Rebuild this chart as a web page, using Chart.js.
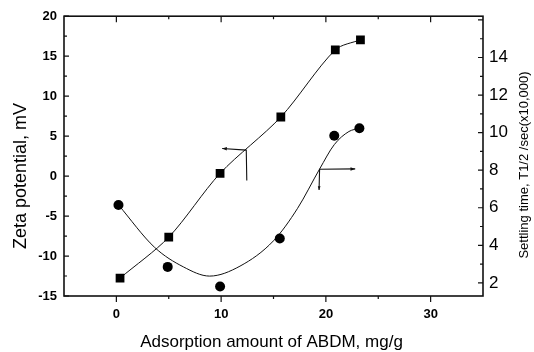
<!DOCTYPE html>
<html>
<head>
<meta charset="utf-8">
<script src="https://cdn.jsdelivr.net/npm/chart.js@4/dist/chart.umd.min.js"></script>
<style>
html,body{margin:0;padding:0;background:#fff;}
#wrap{width:534px;height:352px;}
</style>
</head>
<body>
<div id="wrap"><canvas id="c" width="534" height="352"></canvas></div>
<script>
// ---- data ----
const adsorptionZeta = [0.35, 5.0, 9.9, 15.7, 20.9, 23.3];       // mg/g
const zetaPotential  = [-12.76, -7.64, 0.34, 7.39, 15.79, 17.05];  // mV
const adsorptionSettle = [0.2, 4.9, 9.9, 15.6, 20.8, 23.2];      // mg/g
const settlingTime     = [6.15, 2.85, 1.81, 4.36, 9.83, 10.23];  // x10,000 s
// fitted curve through settling-time points
const settleCurveX = [0.2, 3.65, 6.4, 8.9, 11.8, 15.0, 17.3, 19.4, 20.8, 22.2, 23.2];
const settleCurveY = [6.15, 3.89, 2.85, 2.36, 2.89, 4.24, 5.97, 8.06, 9.36, 10.06, 10.23];
// tick labels
const xTicks  = [0, 10, 20, 30];
const yTicks  = [-15, -10, -5, 0, 5, 10, 15, 20];
const y2Ticks = [2, 4, 6, 8, 10, 12, 14];
const xTitle  = 'Adsorption amount of ABDM, mg/g';
const yTitle  = 'Zeta potential, mV';
const y2Title = 'Settling time, T1/2 /sec(x10,000)';
// annotation arrows (data coordinates: x in mg/g, y in mV)
const arrowToLeft  = {corner: [12.4, 3.25], tip: [10.1, 3.45], foot: [12.45, -0.55]};
const arrowToRight = {corner: [19.4, 0.85], tip: [22.8, 0.9], foot: [19.35, -1.75]};

const INK = '#111';
const FONT = '"Liberation Sans", Arial, sans-serif';

const pts = (xs, ys) => xs.map((x, i) => ({x, y: ys[i]}));

const decorPlugin = {
  id: 'decor',
  afterDraw(chart) {
    const {ctx, chartArea: a, scales} = chart;
    const sx = scales.x, sy = scales.y, sy2 = scales.y2;
    ctx.save();
    ctx.strokeStyle = INK;
    ctx.fillStyle = INK;
    // frame
    ctx.lineWidth = 1.6;
    ctx.strokeRect(a.left, a.top, a.right - a.left, a.bottom - a.top);
    // ticks
    ctx.lineWidth = 1.2;
    ctx.beginPath();
    for (let v = -15; v <= 20; v += 2.5) {
      const p = sy.getPixelForValue(v);
      const len = (v % 5 === 0) ? 5 : 3;
      ctx.moveTo(a.left, p); ctx.lineTo(a.left + len, p);
    }
    for (let v = 2; v <= 16; v += 1) {
      const p = sy2.getPixelForValue(v);
      const len = (v % 2 === 0) ? 5 : 3;
      ctx.moveTo(a.right, p); ctx.lineTo(a.right - len, p);
    }
    for (let v = 0; v <= 30; v += 5) {
      const p = sx.getPixelForValue(v);
      const len = (v % 10 === 0) ? 6 : 3;
      ctx.moveTo(p, a.bottom); ctx.lineTo(p, a.bottom + len);
      ctx.moveTo(p, a.top); ctx.lineTo(p, a.top + len);
    }
    ctx.stroke();

    // arrows
    const P = (d, s) => [sx.getPixelForValue(d[0]), s.getPixelForValue(d[1])];
    const head = (from, to, size) => {
      const ang = Math.atan2(to[1] - from[1], to[0] - from[0]);
      ctx.beginPath();
      ctx.moveTo(to[0], to[1]);
      ctx.lineTo(to[0] - size * Math.cos(ang - 0.35), to[1] - size * Math.sin(ang - 0.35));
      ctx.lineTo(to[0] - size * Math.cos(ang + 0.35), to[1] - size * Math.sin(ang + 0.35));
      ctx.closePath(); ctx.fill();
    };
    ctx.lineWidth = 1.1;
    [arrowToLeft, arrowToRight].forEach((ar, i) => {
      const c = P(ar.corner, sy), t = P(ar.tip, sy), f = P(ar.foot, sy);
      ctx.beginPath();
      ctx.moveTo(t[0], t[1]); ctx.lineTo(c[0], c[1]); ctx.lineTo(f[0], f[1]);
      ctx.stroke();
      head(c, t, 5);
      if (i === 1) head(c, f, 4);
    });

    // axis titles
    ctx.fillStyle = '#000';
    ctx.textAlign = 'center';
    ctx.textBaseline = 'alphabetic';
    ctx.font = '17px ' + FONT;
    ctx.fillText(xTitle, (a.left + a.right) / 2 - 2, 347);
    ctx.save();
    ctx.translate(26, 176);
    ctx.rotate(-Math.PI / 2);
    ctx.font = '18px ' + FONT;
    ctx.fillText(yTitle, 0, 0);
    ctx.restore();
    ctx.save();
    ctx.translate(528, 165);
    ctx.rotate(-Math.PI / 2);
    ctx.font = '13px ' + FONT;
    ctx.fillText(y2Title, 0, 0);
    ctx.restore();
    ctx.restore();
  }
};

new Chart(document.getElementById('c'), {
  type: 'scatter',
  data: {
    datasets: [
      {
        label: 'Zeta potential',
        data: pts(adsorptionZeta, zetaPotential),
        yAxisID: 'y',
        showLine: true,
        tension: 0.3,
        borderColor: INK, borderWidth: 1,
        pointStyle: 'rect', pointRadius: 6.2,
        pointBackgroundColor: '#000', pointBorderColor: '#000', pointBorderWidth: 0
      },
      {
        label: 'Settling time',
        data: pts(adsorptionSettle, settlingTime),
        yAxisID: 'y2',
        showLine: false,
        pointStyle: 'circle', pointRadius: 5,
        pointBackgroundColor: '#000', pointBorderColor: '#000', pointBorderWidth: 0
      },
      {
        label: 'Settling time fit',
        data: pts(settleCurveX, settleCurveY),
        yAxisID: 'y2',
        showLine: true,
        cubicInterpolationMode: 'monotone',
        borderColor: INK, borderWidth: 1,
        pointRadius: 0
      }
    ]
  },
  options: {
    responsive: false,
    animation: false,
    layout: {padding: {top: 10, left: 0, right: 0, bottom: 0}},
    plugins: {legend: {display: false}, tooltip: {enabled: false}},
    scales: {
      x: {
        type: 'linear', position: 'bottom', min: -5, max: 35,
        grid: {display: false, drawTicks: false},
        border: {display: false},
        afterBuildTicks: s => { s.ticks = xTicks.map(v => ({value: v})); },
        afterFit: s => { s.height = 56; },
        ticks: {padding: 11, color: '#000', font: {family: FONT, size: 13, weight: 'bold'}}
      },
      y: {
        type: 'linear', position: 'left', min: -15, max: 20,
        grid: {display: false, drawTicks: false},
        border: {display: false},
        afterBuildTicks: s => { s.ticks = yTicks.map(v => ({value: v})); },
        afterFit: s => { s.width = 64; },
        ticks: {padding: 7, color: '#000', font: {family: FONT, size: 13, weight: 'bold'}}
      },
      y2: {
        type: 'linear', position: 'right', min: 1.3, max: 16.2,
        grid: {display: false, drawTicks: false},
        border: {display: false},
        afterBuildTicks: s => { s.ticks = y2Ticks.map(v => ({value: v})); },
        afterFit: s => { s.width = 51; },
        ticks: {padding: 6, color: '#000', font: {family: FONT, size: 17}}
      }
    }
  },
  plugins: [decorPlugin]
});
</script>
</body>
</html>
